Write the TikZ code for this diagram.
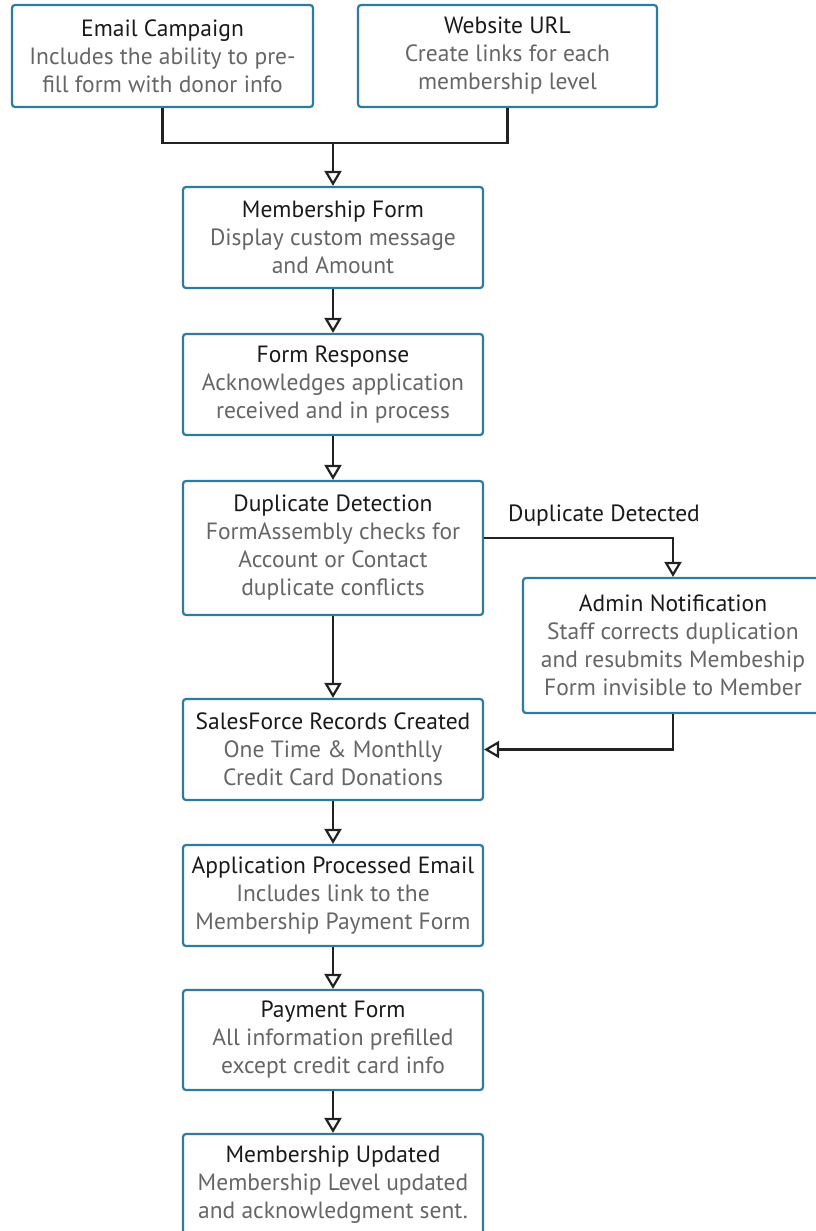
\documentclass[tikz,border=0pt]{standalone}
\usepackage{fontspec}
\setmainfont{PT Sans}
\usetikzlibrary{arrows.meta,calc}
\definecolor{boxblue}{HTML}{2B7BA3}
\definecolor{titlec}{HTML}{1A1A1A}
\definecolor{bodyc}{HTML}{666666}
\definecolor{linec}{HTML}{222222}
\tikzset{
  flowbox/.style={draw=boxblue, line width=2.2pt, rounded corners=3pt, fill=white,
    minimum width=300pt, minimum height=101pt, inner sep=0pt, align=center,
    font=\fontsize{23.5}{28}\selectfont, text=bodyc},
  conn/.style={draw=linec, line width=2.4pt},
  arr/.style={conn, -{Triangle[open, length=15pt, width=17pt, line width=2.2pt]}},
}
\newcommand{\ttl}[1]{\textcolor{titlec}{#1}}
\begin{document}
\begin{tikzpicture}[x=1pt,y=-1pt]
\useasboundingbox (0,0) rectangle (815,1231);
\fill[white] (0,0) rectangle (815,1231);
\node[flowbox, minimum width=301pt, minimum height=102pt] (email) at (162.5,56) {\ttl{Email Campaign}\\Includes the ability to pre-\\fill form with donor info};
\node[flowbox, minimum width=299pt, minimum height=102pt] (web) at (507.5,56) {\ttl{Website URL}\\Create links for each\\membership level};
\node[flowbox] (mform) at (333,237.5) {\ttl{Membership Form}\\Display custom message\\and Amount};
\node[flowbox] (fresp) at (333,384.5) {\ttl{Form Response}\\Acknowledges application\\received and in process};
\node[flowbox, minimum height=134pt] (dup) at (333,548) {\ttl{Duplicate Detection}\\FormAssembly checks for\\Account or Contact\\duplicate conflicts};
\node[flowbox, minimum height=135pt] (admin) at (673,645.5) {\ttl{Admin Notification}\\Staff corrects duplication\\and resubmits Membeship\\Form invisible to Member};
\node[flowbox] (sf) at (333,749.5) {\ttl{SalesForce Records Created}\\One Time \& Monthlly\\Credit Card Donations};
\node[flowbox] (app) at (333,895.5) {\ttl{Application Processed Email}\\Includes link to the\\Membership Payment Form};
\node[flowbox, minimum height=100pt] (pay) at (333,1040) {\ttl{Payment Form}\\All information prefilled\\except credit card info};
\node[flowbox] (upd) at (333,1184.5) {\ttl{Membership Updated}\\Membership Level updated\\and acknowledgment sent.};
\node[font=\fontsize{23.5}{28}\selectfont, text=titlec, inner sep=0pt] (lbl) at (604,516) {Duplicate Detected};
\coordinate (j) at (333,143);
\draw[conn] (email.south) |- (j) -| (web.south);
\draw[arr] (j) -- (mform.north);
\draw[arr] (mform) -- (fresp);
\draw[arr] (fresp) -- (dup);
\draw[arr] (dup) -- (sf);
\draw[arr] (sf) -- (app);
\draw[arr] (app) -- (pay);
\draw[arr] (pay) -- (upd);
\draw[arr] ([yshift=10pt]dup.east) -| (admin.north);
\draw[arr] (admin.south) |- (sf.east);
\end{tikzpicture}
\end{document}
